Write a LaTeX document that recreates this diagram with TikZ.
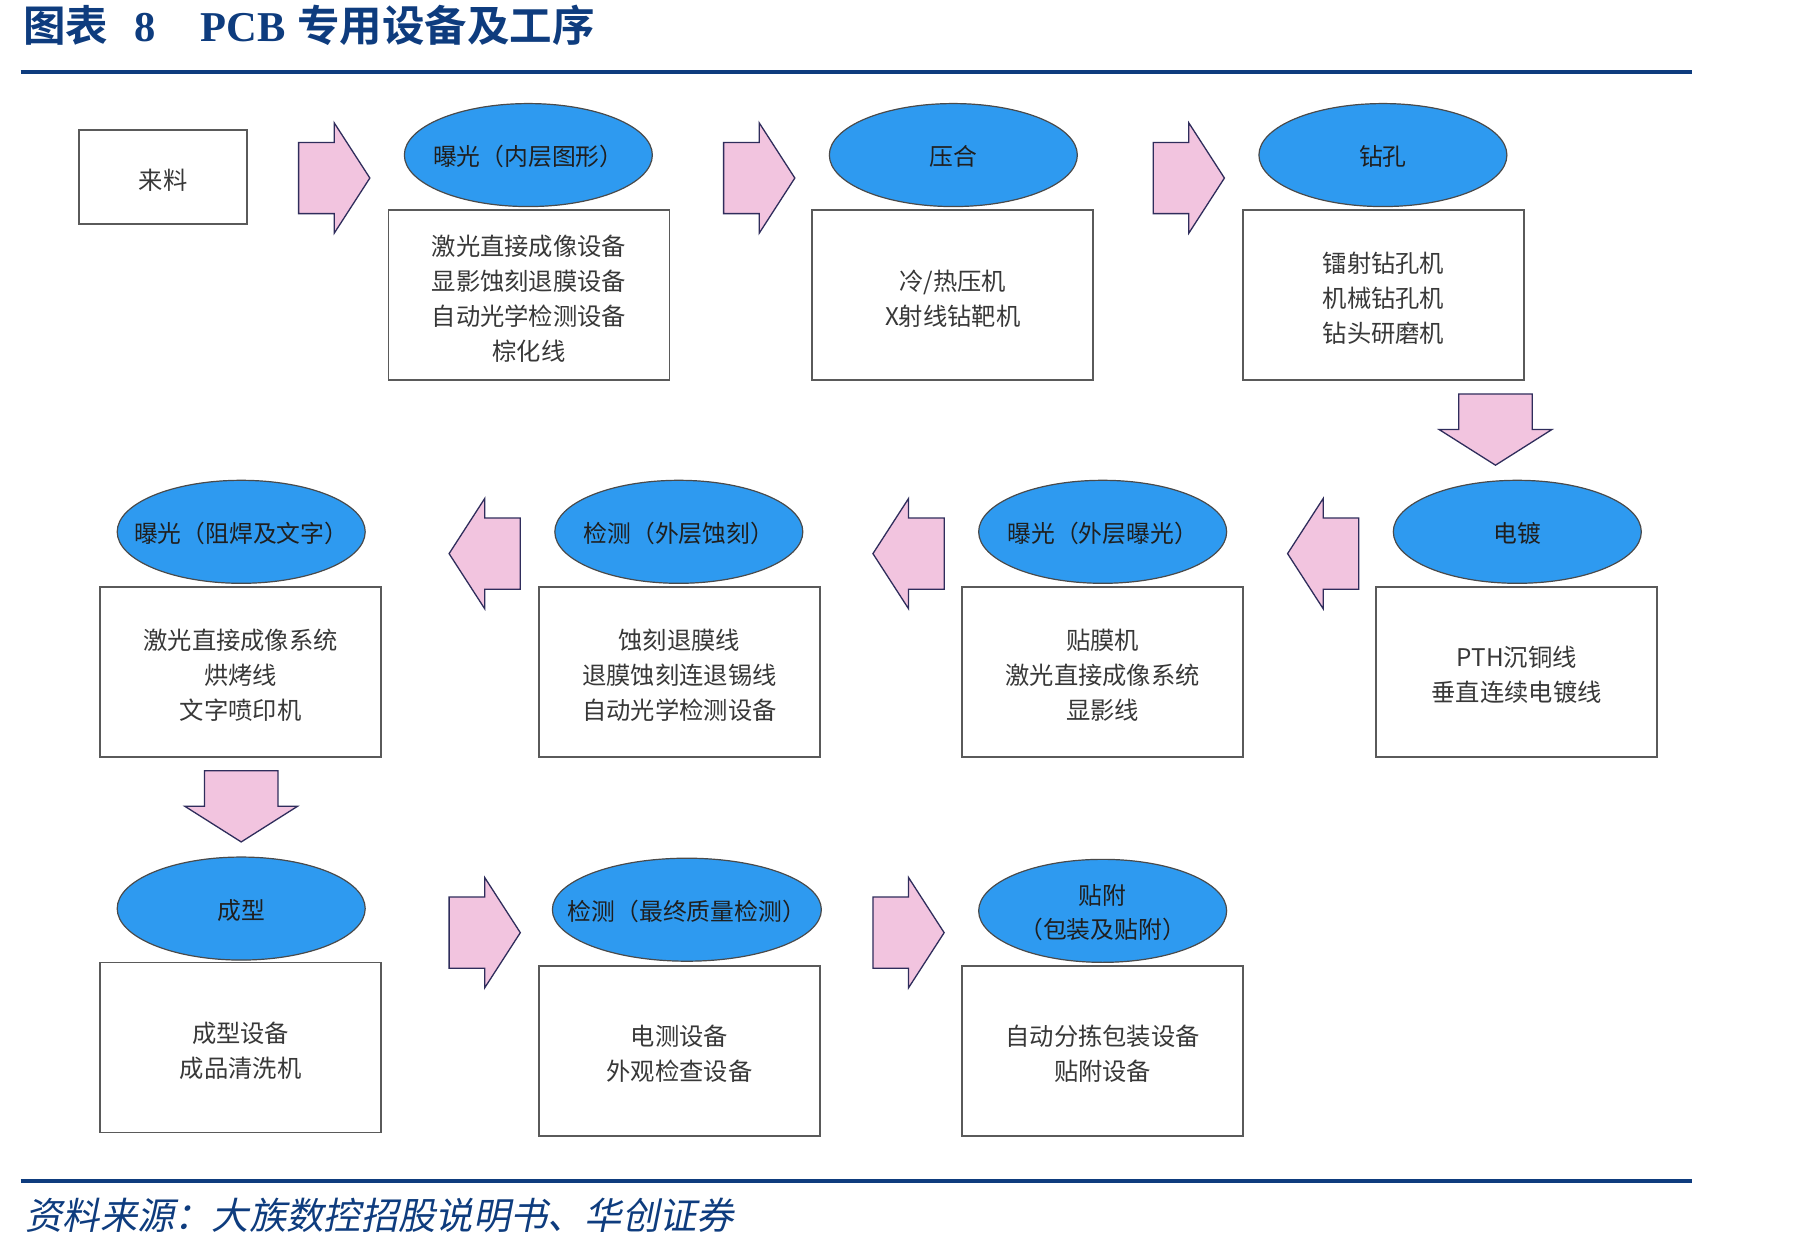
\documentclass[tikz,border=0pt]{standalone}
\usepackage{fontspec}
\usetikzlibrary{shapes.geometric}
\setmainfont{Liberation Serif}
\newfontfamily\cjk{Noto Sans CJK SC}
\newfontfamily\cjkbold{Noto Sans CJK SC Bold}
\newfontfamily\cjkit{Noto Sans CJK SC}[FakeSlant=0.2]
\definecolor{navy}{HTML}{0E3C7E}
\definecolor{ellblue}{HTML}{2E9AF0}
\definecolor{pinkfill}{HTML}{F2C4DF}
\definecolor{arrowedge}{HTML}{2F2D5C}
\definecolor{boxedge}{HTML}{5A5A5A}
\definecolor{elledge}{HTML}{4A4A4A}
\definecolor{txtgray}{HTML}{383838}
\newcommand\ptext[1]{\makebox[0pt][c]{\raisebox{-4pt}[\height][\depth]{\begin{tabular}{@{}c@{}}#1\end{tabular}}}}
\newcommand\btext[1]{\raisebox{-5.5pt}[\height][\depth]{\begin{tabular}{@{}c@{}}#1\end{tabular}}}
\newcommand\blkright[2]{\filldraw[blk] (#1-31,#2-31) -- (#1,#2-31) -- (#1,#2-48) -- (#1+31,#2) -- (#1,#2+48) -- (#1,#2+31) -- (#1-31,#2+31) -- cycle;}
\newcommand\blkleft[2]{\filldraw[blk] (#1+31,#2-31) -- (#1,#2-31) -- (#1,#2-48) -- (#1-31,#2) -- (#1,#2+48) -- (#1,#2+31) -- (#1+31,#2+31) -- cycle;}
\newcommand\blkdown[2]{\filldraw[blk] (#1-32,#2) -- (#1+32,#2) -- (#1+32,#2+31) -- (#1+49,#2+31) -- (#1,#2+62) -- (#1-49,#2+31) -- (#1-32,#2+31) -- cycle;}
\begin{document}
\begin{tikzpicture}[x=1.1486pt,y=-1.1486pt,
  box/.style={draw=boxedge, line width=1.6pt, fill=white, minimum width=281pt, minimum height=170pt, inner sep=0pt, text=txtgray, font=\cjk\fontsize{24.3}{35}\selectfont},
  proc/.style={ellipse, draw=elledge, line width=1.2pt, fill=ellblue, minimum width=248pt, minimum height=103pt, inner sep=0pt, text=black!88, font=\cjk\fontsize{23.8}{34}\selectfont},
  blk/.style={fill=pinkfill, draw=arrowedge, line width=1.3pt, line join=miter}]
\useasboundingbox (0,0) rectangle (1568,1089);
\fill[white] (0,0) rectangle (1568,1089);
% title and rules
\node[anchor=west, text=navy, inner sep=0pt] (title) at (20,22) {\fontsize{42.5}{42.5}\selectfont\cjkbold 图表\hspace{26pt}{\rmfamily\bfseries 8}\hspace{45pt}{\rmfamily\bfseries PCB}\hspace{12pt}专用设备及工序};
\draw[navy, line width=4pt] (18,63) -- (1473,63);
\draw[navy, line width=4pt] (18,1028) -- (1473,1028);
\node[anchor=west, text=navy, inner sep=0pt] (src) at (22,1058) {\cjkit\fontsize{37.3}{37}\selectfont 资料来源：大族数控招股说明书、华创证券};
% row 1
\node[box, minimum width=168pt, minimum height=94pt] (raw) at (142,154) {\btext{来料}};
\node[box] (b1) at (460.5,257) {\btext{激光直接成像设备\\显影蚀刻退膜设备\\自动光学检测设备\\棕化线}};
\node[proc] (e1) at (460,135) {\ptext{曝光（内层图形）}};
\node[box] (b2) at (829.5,257) {\btext{冷/热压机\\X射线钻靶机}};
\node[proc] (e2) at (830,135) {\ptext{压合}};
\node[box] (b3) at (1204.5,257) {\btext{镭射钻孔机\\机械钻孔机\\钻头研磨机}};
\node[proc] (e3) at (1204,135) {\ptext{钻孔}};
% row 2
\node[box] (b4) at (1320.5,585) {\btext{PTH沉铜线\\垂直连续电镀线}};
\node[proc] (e4) at (1321,463) {\ptext{电镀}};
\node[box] (b5) at (960,585) {\btext{贴膜机\\激光直接成像系统\\显影线}};
\node[proc] (e5) at (960,463) {\ptext{曝光（外层曝光）}};
\node[box] (b6) at (591.5,585) {\btext{蚀刻退膜线\\退膜蚀刻连退锡线\\自动光学检测设备}};
\node[proc] (e6) at (591,463) {\ptext{检测（外层蚀刻）}};
\node[box] (b7) at (209.5,585) {\btext{激光直接成像系统\\烘烤线\\文字喷印机}};
\node[proc] (e7) at (210,463) {\ptext{曝光（阻焊及文字）}};
% row 3
\node[box] (b8) at (209.5,912) {\btext{成型设备\\成品清洗机}};
\node[proc] (e8) at (210,791) {\ptext{成型}};
\node[box] (b9) at (591.5,915) {\btext{电测设备\\外观检查设备}};
\node[proc, minimum width=269pt] (e9) at (598,792) {\ptext{检测（最终质量检测）}};
\node[box] (b10) at (960,915) {\btext{自动分拣包装设备\\贴附设备}};
\node[proc] (e10) at (960,793) {\ptext{贴附\\（包装及贴附）}};
% block arrows
\blkright{291}{155}
\blkright{661}{155}
\blkright{1035}{155}
\blkdown{1302}{343}
\blkleft{1152}{482}
\blkleft{791}{482}
\blkleft{422}{482}
\blkdown{210}{671}
\blkright{422}{812}
\blkright{791}{812}
\end{tikzpicture}
\end{document}
